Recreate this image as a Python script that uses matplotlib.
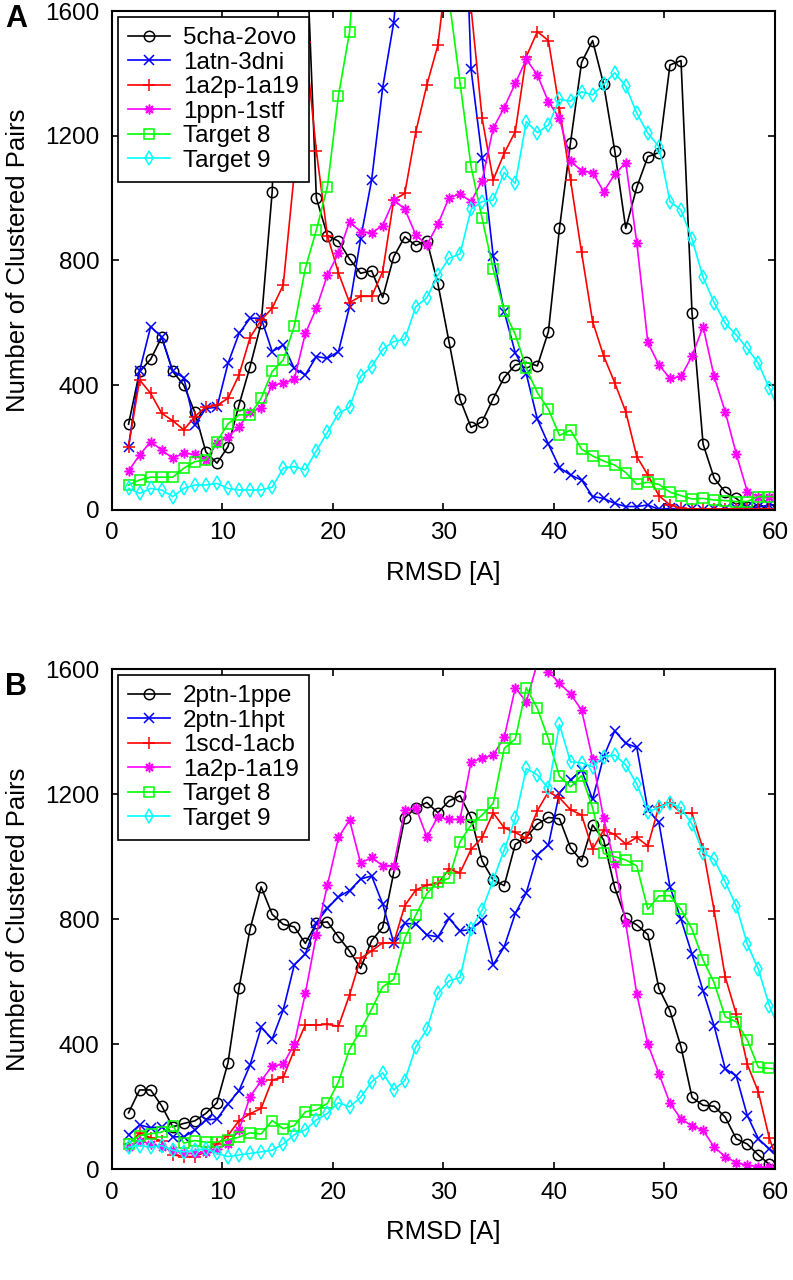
import numpy as np
import matplotlib.pyplot as plt

plt.rcParams['font.family'] = ['Liberation Sans', 'DejaVu Sans']

# RMSD bin centres [A]
rmsd = np.arange(1.5, 61.0, 1.0)

# ---- panel A ----
labels_a = ["5cha-2ovo", "1atn-3dni", "1a2p-1a19", "1ppn-1stf", "Target 8", "Target 9"]

a_5cha_2ovo = [275, 444, 483, 554, 444, 400, 313, 186, 150, 203, 337, 460, 598, 1020, 2080,
               2200, 1900, 1000, 880, 862, 805, 759, 767, 681, 812, 876, 848, 864, 725, 540,
               355, 265, 283, 357, 425, 465, 473, 462, 572, 903, 1178, 1435, 1505, 1365, 1152,
               903, 1035, 1133, 1146, 1427, 1441, 631, 211, 102, 57, 37, 9, 3, 2, 2]
a_1atn_3dni = [203, 446, 588, 554, 446, 424, 272, 326, 329, 470, 566, 615, 615, 508, 529,
               454, 433, 492, 486, 508, 652, 869, 1058, 1354, 1563, 1950, 2300, 2600, 2700, 2650,
               2400, 1413, 1130, 815, 636, 504, 436, 291, 211, 136, 112, 96, 43, 37, 21,
               11, 11, 16, 2, 5, 2, 3, 1, 2, 3, 5, 9, 9, 16, 18]
a_1a2p_1a19 = [203, 417, 374, 310, 286, 257, 299, 331, 335, 358, 433, 553, 609, 647, 721,
               1080, 1500, 1150, 880, 760, 665, 685, 685, 764, 994, 1015, 1213, 1363, 1491, 1790,
               1900, 1610, 1256, 1058, 1144, 1213, 1454, 1534, 1505, 1288, 1058, 826, 604, 494, 408,
               315, 171, 112, 46, 16, 5, 3, 2, 2, 2, 2, 2, 2, 2, 2]
a_1ppn_1stf = [125, 176, 219, 192, 166, 182, 178, 160, 214, 235, 267, 315, 326, 401, 406,
               419, 566, 647, 754, 823, 924, 892, 889, 912, 994, 965, 882, 850, 916, 1001,
               1013, 989, 1056, 1224, 1290, 1368, 1445, 1395, 1309, 1256, 1119, 1087, 1082, 1021, 1076,
               1114, 857, 537, 465, 422, 428, 494, 588, 428, 315, 180, 59, 43, 43, 43]
a_target8 = [80, 96, 105, 105, 105, 134, 155, 160, 219, 276, 305, 305, 358, 444, 481,
             590, 775, 898, 1037, 1329, 1532, 2000, 2400, 2700, 2800, 2700, 2400, 2100, 1900, 1640,
             1370, 1101, 935, 772, 638, 563, 454, 376, 323, 239, 256, 195, 173, 157, 144,
             120, 82, 89, 82, 57, 46, 35, 37, 32, 30, 27, 27, 43, 43, 43]
a_target9 = [69, 53, 69, 64, 43, 69, 80, 80, 85, 69, 64, 64, 64, 73, 134,
             139, 128, 190, 249, 310, 329, 428, 460, 515, 540, 547, 652, 681, 753, 807,
             821, 964, 989, 994, 1082, 1047, 1245, 1210, 1234, 1317, 1311, 1341, 1331, 1365, 1402,
             1359, 1272, 1208, 1165, 989, 962, 868, 746, 665, 599, 561, 518, 470, 390, 305]

# ---- panel B ----
labels_b = ["2ptn-1ppe", "2ptn-1hpt", "1scd-1acb", "1a2p-1a19", "Target 8", "Target 9"]

b_2ptn_1ppe = [180, 253, 253, 202, 135, 146, 154, 178, 212, 340, 580, 768, 903, 815, 783,
               775, 722, 786, 791, 743, 698, 642, 731, 773, 949, 1124, 1156, 1173, 1140, 1178,
               1195, 1125, 986, 925, 907, 1039, 1061, 1104, 1125, 1121, 1028, 986, 1101, 1053, 901,
               802, 781, 751, 578, 507, 391, 229, 204, 201, 166, 97, 80, 45, 15, 5]
b_2ptn_1hpt = [109, 141, 132, 135, 103, 103, 125, 157, 160, 208, 251, 333, 453, 416, 509,
               653, 688, 788, 834, 871, 891, 928, 938, 848, 724, 786, 784, 749, 743, 802,
               762, 767, 797, 653, 711, 818, 884, 1005, 1037, 1203, 1245, 1277, 1183, 1320, 1402,
               1362, 1349, 1149, 1109, 903, 799, 687, 570, 458, 321, 298, 171, 97, 64, 40]
b_1scd_1acb = [80, 115, 100, 90, 45, 40, 40, 55, 80, 107, 155, 177, 194, 285, 293,
               381, 461, 461, 463, 457, 557, 674, 698, 724, 724, 843, 893, 909, 914, 959,
               948, 1023, 1061, 1140, 1092, 1077, 1058, 1147, 1207, 1188, 1150, 1133, 1023, 1085, 1071,
               1040, 1061, 1034, 1160, 1172, 1140, 1138, 1023, 827, 615, 496, 335, 247, 98, 0]
b_1a2p_1a19 = [70, 90, 80, 70, 60, 50, 50, 55, 65, 80, 125, 232, 282, 330, 335,
               400, 562, 749, 909, 1061, 1117, 979, 997, 971, 971, 1149, 1156, 1063, 1127, 1119,
               1119, 1303, 1314, 1325, 1381, 1540, 1495, 1620, 1592, 1555, 1520, 1469, 1312, 1122, 976,
               786, 559, 400, 305, 211, 160, 138, 124, 70, 40, 20, 12, 8, 5, 3]
b_target8 = [81, 107, 113, 118, 139, 83, 91, 86, 86, 94, 102, 116, 112, 155, 129,
             139, 183, 189, 210, 279, 383, 443, 512, 583, 607, 738, 813, 882, 919, 930,
             1047, 1101, 1133, 1170, 1346, 1376, 1540, 1474, 1376, 1257, 1223, 1259, 1156, 1010, 999,
             989, 970, 831, 874, 875, 831, 767, 669, 596, 487, 471, 413, 325, 322, 320]
b_target9 = [70, 75, 70, 75, 60, 55, 60, 65, 50, 40, 45, 50, 55, 60, 80,
             110, 125, 157, 178, 212, 199, 229, 279, 308, 253, 283, 391, 447, 562, 602,
             613, 767, 829, 925, 1021, 1122, 1282, 1261, 1218, 1423, 1303, 1300, 1287, 1320, 1325,
             1293, 1232, 1143, 1157, 1172, 1154, 1104, 1012, 991, 919, 842, 720, 639, 522, 440]

# matlab style colours / markers
colors = ['#000000', '#0000ff', '#ff0000', '#ff00ff', '#00ff00', '#00ffff']
markers = ['o', 'x', '+', (8, 2, 0), 's', 'd']
msizes = [7.5, 6.5, 8.5, 7.0, 6.5, 7.0]


def draw_panel(ax, series, labels):
    for vals, lab, c, m, ms in zip(series, labels, colors, markers, msizes):
        ax.plot(rmsd, vals, color=c, marker=m, markersize=ms, markerfacecolor='none',
                markeredgecolor=c, markeredgewidth=1.1, lw=1.2, label=lab)
    ax.set_xlim(0, 60)
    ax.set_ylim(0, 1600)
    ax.set_xticks([0, 10, 20, 30, 40, 50, 60])
    ax.set_yticks([0, 400, 800, 1200, 1600])
    ax.tick_params(direction='in', top=True, right=True, length=5, width=1.2,
                   labelsize=17.5, pad=9)
    for sp in ax.spines.values():
        sp.set_linewidth(1.5)
    ax.set_xlabel('RMSD [A]', fontsize=18.5, labelpad=12)
    ax.set_ylabel('Number of Clustered Pairs', fontsize=18.5, labelpad=11)
    leg = ax.legend(loc='upper left', fontsize=17.5, labelspacing=0.1, borderpad=0.42,
                    handlelength=1.7, handletextpad=0.55, borderaxespad=0.25,
                    fancybox=False, framealpha=1, edgecolor='k')
    leg.get_frame().set_linewidth(1.2)


fig = plt.figure(figsize=(7.93, 12.8), dpi=100)
ax_a = fig.add_axes([0.1412, 0.6016, 0.836, 0.3898])
ax_b = fig.add_axes([0.1412, 0.0867, 0.836, 0.3906])

draw_panel(ax_a, [a_5cha_2ovo, a_1atn_3dni, a_1a2p_1a19, a_1ppn_1stf, a_target8, a_target9],
           labels_a)
draw_panel(ax_b, [b_2ptn_1ppe, b_2ptn_1hpt, b_1scd_1acb, b_1a2p_1a19, b_target8, b_target9],
           labels_b)

fig.text(5 / 793, 1 - 4 / 1280, 'A', fontsize=22, fontweight='bold', ha='left', va='top')
fig.text(5 / 793, 1 - 672 / 1280, 'B', fontsize=22, fontweight='bold', ha='left', va='top')

fig.savefig('out.png', dpi=100)
